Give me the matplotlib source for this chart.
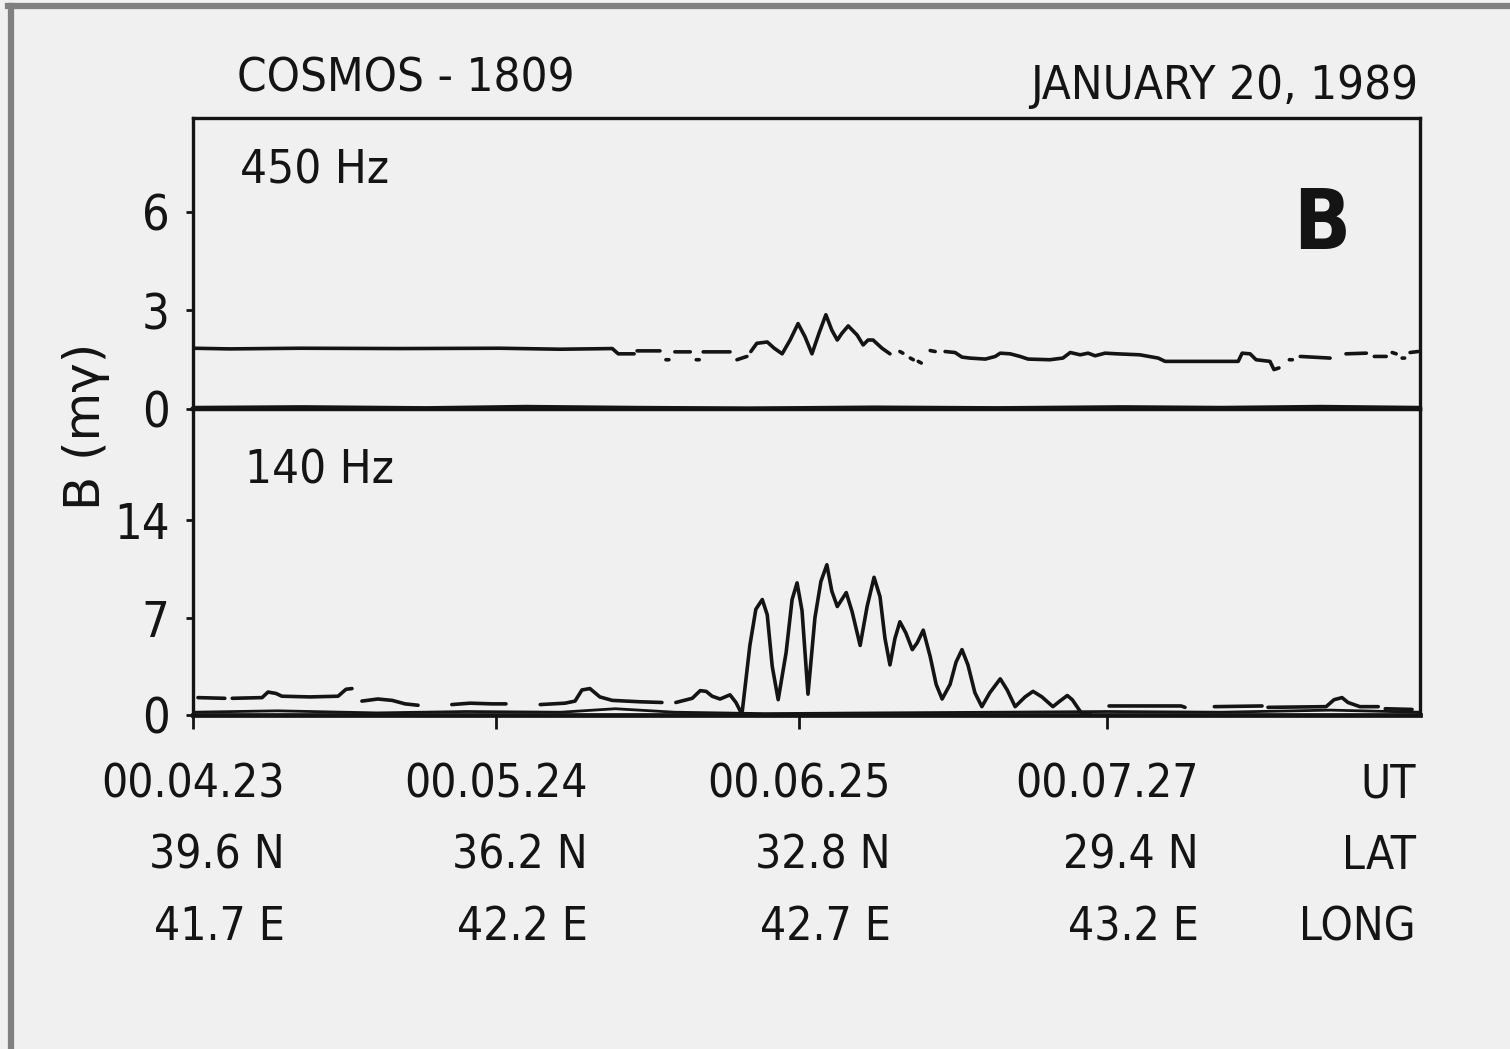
import matplotlib
matplotlib.use("Agg")
import matplotlib.pyplot as plt
from matplotlib import font_manager as fm
from matplotlib.lines import Line2D

nan = float("nan")

# ---------------- data (UT seconds after 00:00:00, B in m-gamma) ----------------
t_450 = [263.0, 270.4, 284.5, 304.7, 324.8, 336.9, 347.4, 348.6, 351.8, nan,
         352.4, 357.0, nan, 358.2, 358.8, nan, 360.0, 363.1, nan, 364.3, 364.9, nan,
         365.7, 371.1, nan, 372.5, 374.5, nan,
         375.3, 376.5, 378.6, 380.0, 381.6, 383.2, 384.8, 386.2, 387.6, 389.0, 390.4,
         391.6, 392.7, 393.6, 394.9, 396.7, 397.9, 398.9, 399.9, 401.7, 403.3, nan,
         405.3, 405.9, nan, 407.4, 408.0, nan, 409.0, 409.6, nan, 411.4, 412.4, nan,
         414.4, 416.4, 417.8, 419.4, 422.5, 424.5, 425.5, 427.5, 429.5, 431.1, 435.5,
         438.1, 439.6, 441.6, 443.2, 444.6, 446.6, 449.0, 453.6, 457.3, 458.7, 465.7,
         473.4, 474.2, 475.8, 477.0, 479.8, 480.6, 481.6, nan, 483.7, 484.3, nan,
         485.9, 491.9, nan, 495.1, 499.2, nan, 500.8, 503.2, nan, 504.4, 505.2, nan,
         506.4, 506.9, nan, 508.0, 509.6]
b_450 = [1.85, 1.83, 1.85, 1.84, 1.85, 1.82, 1.84, 1.68, 1.68, nan,
         1.77, 1.77, nan, 1.50, 1.50, nan, 1.74, 1.74, nan, 1.50, 1.50, nan,
         1.74, 1.74, nan, 1.50, 1.60, nan,
         1.75, 2.00, 2.04, 1.85, 1.68, 2.10, 2.60, 2.20, 1.68, 2.30, 2.87,
         2.40, 2.10, 2.30, 2.53, 2.25, 1.95, 2.10, 2.10, 1.85, 1.68, nan,
         1.75, 1.70, nan, 1.55, 1.50, nan, 1.45, 1.40, nan, 1.78, 1.75, nan,
         1.75, 1.72, 1.58, 1.55, 1.52, 1.60, 1.70, 1.68, 1.60, 1.52, 1.50,
         1.55, 1.72, 1.65, 1.70, 1.62, 1.70, 1.68, 1.65, 1.55, 1.45, 1.45,
         1.45, 1.70, 1.68, 1.50, 1.45, 1.20, 1.25, nan, 1.50, 1.50, nan,
         1.60, 1.55, nan, 1.68, 1.70, nan, 1.60, 1.60, nan, 1.72, 1.68, nan,
         1.55, 1.55, nan, 1.72, 1.75]

t_450_base = [263.0, 285.0, 310.0, 330.0, 352.0, 375.0, 400.0, 425.0, 450.0, 470.0, 490.0, 510.0]
b_450_base = [0.06, 0.08, 0.05, 0.09, 0.06, 0.04, 0.07, 0.05, 0.08, 0.06, 0.09, 0.06]

t_140 = [264.0, 269.4, nan,
         270.9, 276.9, 278.1, 279.7, 280.9, 286.6, 292.2, 293.8, 295.0, nan,
         297.0, 300.2, 303.1, 305.7, 308.3, nan,
         315.1, 318.8, 323.2, 326.0, nan,
         332.9, 337.9, 339.9, 341.3, 342.9, 344.9, 347.4, 353.0, 357.4, nan,
         360.2, 363.5, 365.1, 366.3, 367.5, 369.1, 371.1, 372.3, 373.5, 375.1,
         376.3, 377.6, 378.6, 379.6, 380.8, 382.4, 383.6, 384.6, 385.6, 386.8,
         388.2, 389.4, 390.6, 391.6, 392.7, 393.6, 394.5, 395.7, 397.3, 398.7,
         400.1, 401.3, 402.3, 403.3, 404.3, 405.3, 406.5, 407.8, 408.8, 410.0,
         411.4, 412.6, 413.8, 415.4, 416.6, 417.8, 419.0, 420.4, 421.8, 423.4,
         425.5, 426.9, 428.5, 430.5, 432.1, 433.9, 436.1, 437.5, 439.0, 440.0,
         442.0, 443.6, nan,
         447.4, 461.9, 462.7, nan,
         468.6, 478.2, nan, 479.4, 491.1, 492.7, 494.3, 495.5, 497.9, 501.6, nan,
         503.0, 508.4]
b_140 = [1.25, 1.20, nan,
         1.20, 1.25, 1.65, 1.55, 1.35, 1.30, 1.35, 1.85, 1.90, nan,
         1.00, 1.15, 1.05, 0.80, 0.70, nan,
         0.75, 0.85, 0.80, 0.80, nan,
         0.75, 0.85, 1.00, 1.80, 1.90, 1.30, 1.05, 0.95, 0.90, nan,
         0.90, 1.20, 1.75, 1.70, 1.35, 1.15, 1.45, 0.90, 0.05, 5.00,
         7.60, 8.30, 7.20, 3.50, 1.10, 4.50, 8.30, 9.50, 7.50, 1.50,
         7.00, 9.60, 10.80, 8.90, 7.80, 8.30, 8.80, 7.40, 5.00, 7.80,
         9.90, 8.50, 5.50, 3.60, 5.50, 6.70, 5.90, 4.70, 5.20, 6.10,
         4.20, 2.20, 1.15, 2.20, 3.80, 4.70, 3.60, 1.60, 0.60, 1.60,
         2.60, 1.80, 0.60, 1.30, 1.70, 1.30, 0.60, 1.00, 1.40, 1.10,
         0.05, 0.10, nan,
         0.65, 0.65, 0.55, nan,
         0.60, 0.65, nan, 0.55, 0.60, 1.10, 1.25, 0.90, 0.60, 0.60, nan,
         0.45, 0.40]

t_140_base = [263.0, 280.0, 300.0, 318.0, 337.0, 348.0, 360.0, 378.0, 400.0, 425.0, 447.0, 470.0, 492.0, 510.0]
b_140_base = [0.20, 0.30, 0.15, 0.25, 0.20, 0.45, 0.20, 0.10, 0.15, 0.20, 0.25, 0.20, 0.35, 0.20]

ut_ticks = [263, 324, 385, 447]
ut_labels = ["00.04.23", "00.05.24", "00.06.25", "00.07.27"]
lat_labels = ["39.6 N", "36.2 N", "32.8 N", "29.4 N"]
lon_labels = ["41.7 E", "42.2 E", "42.7 E", "43.2 E"]
yticks_450 = [0, 3, 6]
yticks_140 = [0, 7, 14]

# ---------------- fonts ----------------
avail = {f.name for f in fm.fontManager.ttflist}
if "Liberation Sans Narrow" in avail:
    FONT = dict(family=["Liberation Sans Narrow", "DejaVu Sans"], stretch="normal")
else:
    FONT = dict(family=["DejaVu Sans"], stretch="condensed")
plt.rcParams["font.family"] = FONT["family"]
plt.rcParams["font.stretch"] = FONT["stretch"]

INK = "#141414"
BG = "#f0f0f0"
W, H = 1510, 1049
FS = 33
LS = 1.76


def fx(px):
    return px / W


def fy(py):
    return 1 - py / H


fig = plt.figure(figsize=(W / 100, H / 100), dpi=100, facecolor=BG)

ax1 = fig.add_axes([fx(193), fy(409), fx(1420) - fx(193), fy(118) - fy(409)])
ax2 = fig.add_axes([fx(193), fy(715), fx(1420) - fx(193), fy(409) - fy(715)])

for ax in (ax1, ax2):
    ax.set_facecolor("none")
    for s in ax.spines.values():
        s.set_linewidth(2.4)
        s.set_color(INK)
    ax.set_xlim(263, 510)

ax1.set_ylim(0, 8.86)
ax2.set_ylim(0, 22.0)
ax1.spines["bottom"].set_linewidth(3.2)
ax2.spines["top"].set_visible(False)
ax2.spines["bottom"].set_linewidth(3.4)

# traces
ax1.plot(t_450, b_450, color=INK, lw=2.6, solid_joinstyle="round", solid_capstyle="round")
ax1.plot(t_450_base, b_450_base, color=INK, lw=1.8)
ax2.plot(t_140, b_140, color=INK, lw=2.6, solid_joinstyle="round", solid_capstyle="round")
ax2.plot(t_140_base, b_140_base, color=INK, lw=2.0)

# y ticks
ax1.set_yticks(yticks_450)
ax2.set_yticks(yticks_140)
for ax in (ax1, ax2):
    ax.tick_params(axis="y", direction="out", length=5, width=2.0, pad=12,
                   labelsize=FS + 2, colors=INK, right=False)
ax1.tick_params(axis="x", bottom=False, labelbottom=False)

# x ticks with three-line labels (UT / LAT / LONG)
ax2.set_xticks(ut_ticks,
               labels=[f"{u}\n{la}\n{lo}" for u, la, lo in zip(ut_labels, lat_labels, lon_labels)])
ax2.tick_params(axis="x", direction="out", length=10, width=2.0, pad=24,
                labelsize=FS, colors=INK)
for lab in ax2.get_xticklabels():
    lab.set_multialignment("right")
    lab.set_linespacing(LS)

ax2.text((1416 - 193) / (1420 - 193), -(762 - 715) / (715 - 409),
         "UT\nLAT\nLONG", transform=ax2.transAxes, ha="right", va="top",
         multialignment="right", linespacing=LS, fontsize=FS, color=INK)

# annotations
fig.text(fx(237), fy(91), "COSMOS - 1809", ha="left", va="baseline", fontsize=FS + 1, color=INK)
fig.text(fx(1418), fy(99), "JANUARY 20, 1989", ha="right", va="baseline", fontsize=FS + 1, color=INK)
fig.text(fx(240), fy(184), "450 Hz", ha="left", va="baseline", fontsize=FS + 1, color=INK)
fig.text(fx(245), fy(483), "140 Hz", ha="left", va="baseline", fontsize=FS + 1, color=INK)
fig.text(fx(1322), fy(249), "B", ha="center", va="baseline", fontsize=60,
         fontweight="bold", color=INK)
fig.text(fx(86), fy(426), "B (mγ)", rotation=90, ha="center", va="center",
         fontsize=36, color=INK, family=["DejaVu Sans"], stretch="normal")

# scan page border
fig.add_artist(Line2D([fx(11), fx(11)], [0, fy(6)], color="#808080", lw=4.5,
                      transform=fig.transFigure))
fig.add_artist(Line2D([fx(8), 1], [fy(6), fy(6)], color="#808080", lw=4.5,
                      transform=fig.transFigure))

fig.savefig("out.png", dpi=100, facecolor=BG)
